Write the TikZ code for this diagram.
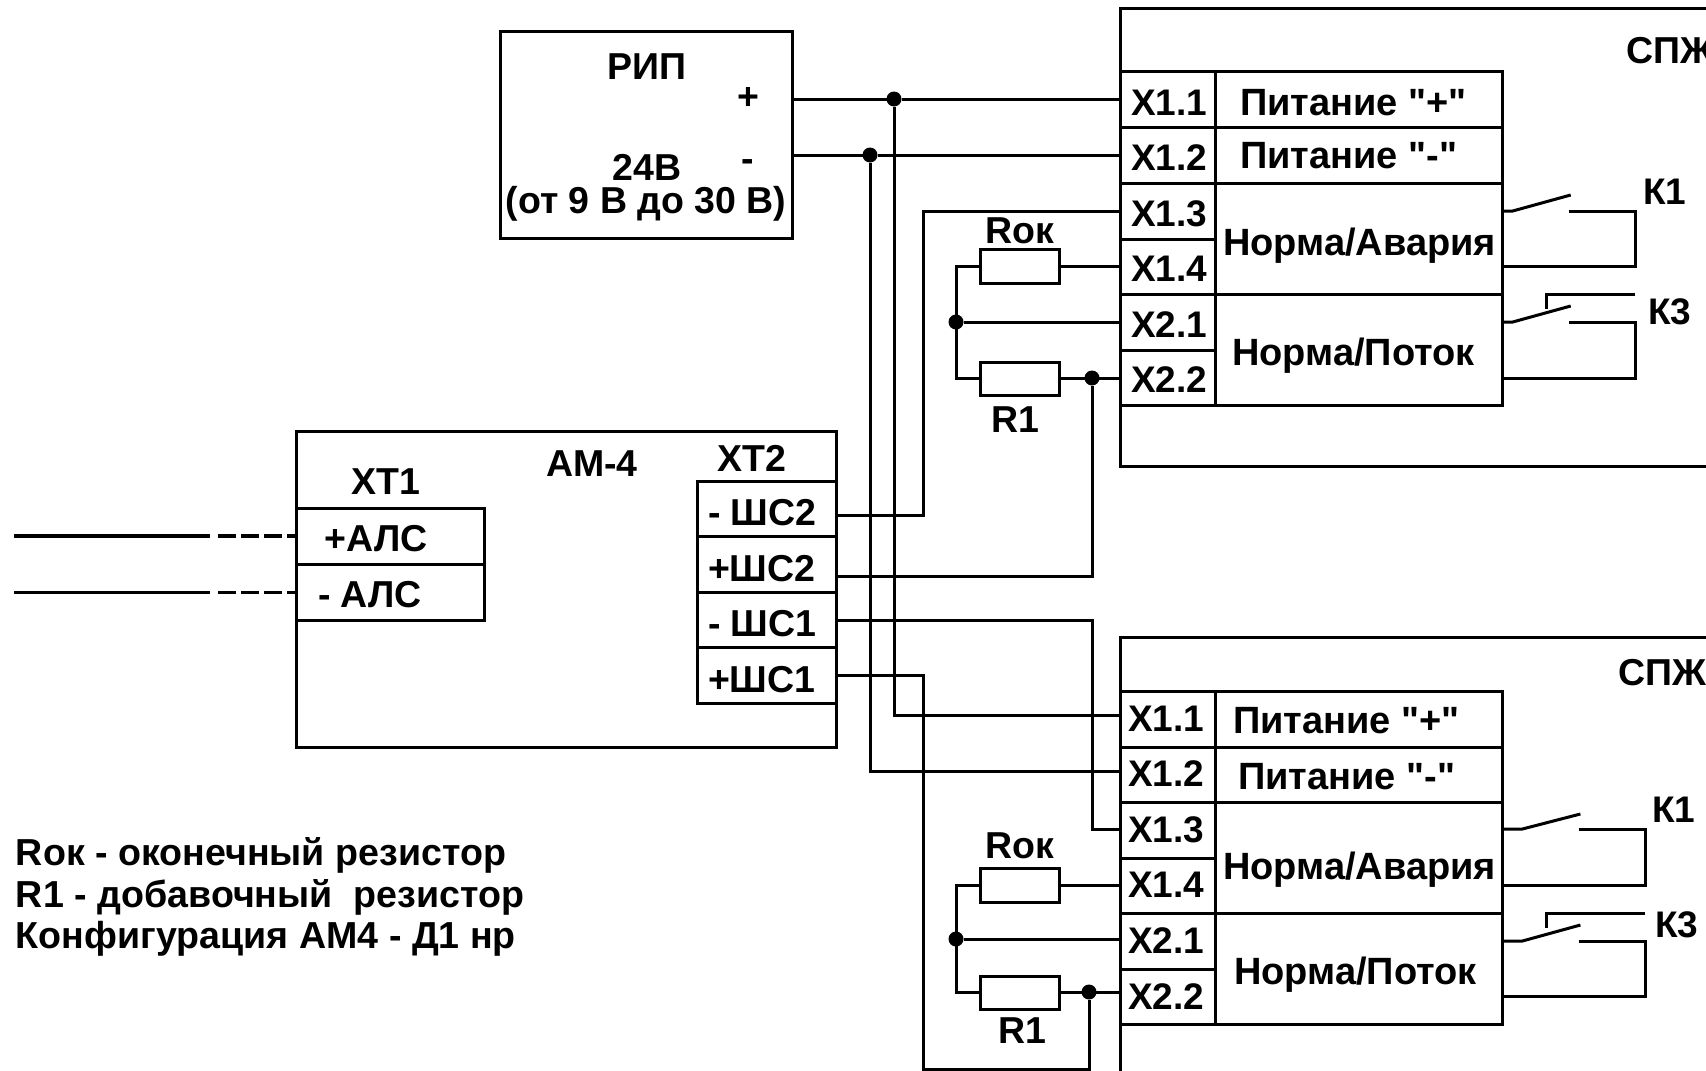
\documentclass[tikz,border=0pt]{standalone}
\usepackage{fontspec}
\setmainfont{Liberation Sans}
\newfontfamily\plainf{Liberation Sans}
\newcommand{\boxat}[6][boxn]{\pgfmathsetmacro\bw{#5-#3}\pgfmathsetmacro\bh{#6-#4}\node[#1,minimum width=\bw pt,minimum height=\bh pt] (#2) at ({(#3+#5)/2},{(#4+#6)/2}) {};}
\tikzset{
  boxn/.style={draw,line width=3pt,inner sep=0pt,outer sep=0pt,rectangle},
  wire/.style={line width=3pt,line join=miter},
  dot/.style={circle,fill=black,inner sep=0pt,outer sep=0pt,minimum size=15pt},
  lab/.style={inner sep=0pt,outer sep=0pt,anchor=base,font=\fontsize{37.5}{37.5}\selectfont\bfseries},
  labw/.style={lab,anchor=base west},
  nar/.style={inner sep=0pt,outer sep=0pt,anchor=base west,font=\fontsize{37}{37}\selectfont\bfseries},
  capt/.style={inner sep=0pt,outer sep=0pt,anchor=base west,font=\plainf\fontsize{38}{38}\selectfont\bfseries},
  leg/.style={inner sep=0pt,outer sep=0pt,anchor=base west,font=\fontsize{37.6}{37.6}\selectfont\bfseries},
}
\begin{document}
\begin{tikzpicture}[x=1pt,y=-1pt]
\useasboundingbox (0,0) rectangle (1706,1071);
\clip (0,0) rectangle (1706,1071);
% outer boxes
\boxat{spzA}{1120}{8.5}{1760}{466}
\boxat{spzB}{1120}{637}{1760}{1110}
\boxat{rip}{500}{31}{792.5}{238}
\boxat{am}{296}{431}{836}{747}
% XT1, XT2
\boxat{alsP}{296}{508}{484.5}{564}
\boxat{alsM}{296}{564}{484.5}{620}
\boxat{shA}{697}{481}{836}{536}
\boxat{shB}{697}{536}{836}{592}
\boxat{shC}{697}{592}{836}{647}
\boxat{shD}{697}{647}{836}{703}
% top terminal block
\boxat{aXa}{1120}{71.5}{1215}{127}
\boxat{aXb}{1120}{127}{1215}{183}
\boxat{aXc}{1120}{183}{1215}{239}
\boxat{aXd}{1120}{239}{1215}{294.5}
\boxat{aXe}{1120}{294.5}{1215}{350}
\boxat{aXf}{1120}{350}{1215}{405.5}
\boxat{aLa}{1215}{71.5}{1502}{127}
\boxat{aLb}{1215}{127}{1502}{183}
\boxat{aLc}{1215}{183}{1502}{294.5}
\boxat{aLd}{1215}{294.5}{1502}{405.5}
% bottom terminal block
\boxat{bXa}{1120}{691}{1215}{747}
\boxat{bXb}{1120}{747}{1215}{802}
\boxat{bXc}{1120}{802}{1215}{858}
\boxat{bXd}{1120}{858}{1215}{913}
\boxat{bXe}{1120}{913}{1215}{969}
\boxat{bXf}{1120}{969}{1215}{1024}
\boxat{bLa}{1215}{691}{1502}{747}
\boxat{bLb}{1215}{747}{1502}{802}
\boxat{bLc}{1215}{802}{1502}{913}
\boxat{bLd}{1215}{913}{1502}{1024}
% resistors
\boxat{rokA}{980}{249}{1059}{283}
\boxat{roA}{980}{362}{1059}{395}
\boxat{rokB}{980}{868}{1059}{902}
\boxat{roB}{980}{976}{1059}{1009}
% junctions
\node[dot] (jP) at (894,99) {};
\node[dot] (jM) at (870,155) {};
\node[dot] (jA) at (956,322) {};
\node[dot] (jB) at (1092,378) {};
\node[dot] (jC) at (956,939) {};
\node[dot] (jD) at (1089,992) {};
% routing coordinates
\coordinate (xPb) at (894,715);
\coordinate (xMb) at (870,771);
\coordinate (x13t) at (923,211);
\coordinate (x13m) at (923,515);
\coordinate (x22t) at (1092,576);
\coordinate (scA) at (1092,620);
\coordinate (scB) at (1092,829);
\coordinate (sdA) at (923,675);
\coordinate (sdB) at (923,1069);
\coordinate (sdC) at (1089,1069);
\coordinate (lA) at (956,266);
\coordinate (lB) at (956,378);
\coordinate (lC) at (956,885);
\coordinate (lD) at (956,992);
% power
\draw[wire] (rip.east |- jP) -- (jP) -- (aXa.west |- jP);
\draw[wire] (rip.east |- jM) -- (jM) -- (aXb.west |- jM);
\draw[wire] (jP) -- (xPb) -- (bXa.west |- xPb);
\draw[wire] (jM) -- (xMb) -- (bXb.west |- xMb);
% loop top
\draw[wire] (shA.east |- x13m) -- (x13m) -- (x13t) -- (aXc.west |- x13t);
\draw[wire] (shB.east |- x22t) -- (x22t) -- (jB);
\draw[wire] (rokA.east) -- (aXd.west |- rokA.east);
\draw[wire] (jA) -- (aXe.west |- jA);
\draw[wire] (roA.east |- jB) -- (aXf.west |- jB);
\draw[wire] (rokA.west) -- (lA) -- (lB) -- (roA.west |- lB);
% loop bottom
\draw[wire] (shC.east |- scA) -- (scA) -- (scB) -- (bXc.west |- scB);
\draw[wire] (shD.east |- sdA) -- (sdA) -- (sdB) -- (sdC) -- (jD);
\draw[wire] (rokB.east) -- (bXd.west |- lC);
\draw[wire] (jC) -- (bXe.west |- jC);
\draw[wire] (roB.east |- jD) -- (bXf.west |- jD);
\draw[wire] (rokB.west) -- (lC) -- (lD) -- (roB.west |- lD);
% ALS lines
\coordinate (alsPa) at (14,536);
\coordinate (alsPb) at (210,536);
\coordinate (alsPc) at (218,536);
\coordinate (alsMa) at (14,592);
\coordinate (alsMb) at (210,592);
\coordinate (alsMc) at (218,592);
\draw[line width=3.4pt] (alsPa) -- (alsPb);
\draw[line width=3pt] (alsMa) -- (alsMb);
\draw[line width=3.4pt,dash pattern=on 18pt off 5pt] (alsPc) -- (alsP.west |- alsPc);
\draw[line width=3pt,dash pattern=on 18pt off 5pt] (alsMc) -- (alsM.west |- alsMc);
% contacts top
\coordinate (kAa) at (1512.7,211);
\coordinate (kAb) at (1570.7,195);
\coordinate (kAc) at (1568.8,211);
\coordinate (kAd) at (1635.3,211);
\coordinate (kAe) at (1635.3,266);
\draw[wire] (aLc.east |- kAa) -- (kAa) -- (kAb);
\draw[wire] (kAc) -- (kAd) -- (kAe) -- (aLc.east |- kAe);
\coordinate (kBa) at (1512.7,322);
\coordinate (kBb) at (1570.7,306);
\coordinate (kBc) at (1568.8,322);
\coordinate (kBd) at (1635.3,322);
\coordinate (kBe) at (1635.3,378);
\coordinate (kBf) at (1635.3,294);
\coordinate (kBg) at (1546.4,294);
\coordinate (kBh) at (1546.4,309);
\draw[wire] (aLd.east |- kBa) -- (kBa) -- (kBb);
\draw[wire] (kBc) -- (kBd) -- (kBe) -- (aLd.east |- kBe);
\draw[wire] (kBf) -- (kBg) -- (kBh);
% contacts bottom
\coordinate (kCa) at (1522.4,829);
\coordinate (kCb) at (1580.4,814);
\coordinate (kCc) at (1578.5,829);
\coordinate (kCd) at (1645,829);
\coordinate (kCe) at (1645,885);
\draw[wire] (bLc.east |- kCa) -- (kCa) -- (kCb);
\draw[wire] (kCc) -- (kCd) -- (kCe) -- (bLc.east |- kCe);
\coordinate (kDa) at (1522.4,941);
\coordinate (kDb) at (1580.4,925);
\coordinate (kDc) at (1578.5,941);
\coordinate (kDd) at (1645,941);
\coordinate (kDe) at (1645,996);
\coordinate (kDf) at (1645,913);
\coordinate (kDg) at (1546.4,913);
\coordinate (kDh) at (1546.4,928);
\draw[wire] (bLd.east |- kDa) -- (kDa) -- (kDb);
\draw[wire] (kDc) -- (kDd) -- (kDe) -- (bLd.east |- kDe);
\draw[wire] (kDf) -- (kDg) -- (kDh);
% texts: RIP
\node[lab] (tRip) at (647,79) {РИП};
\node[lab] (tPlus) at (748,109) {+};
\node[lab] (tMinus) at (748,171) {-};
\node[lab] (t24) at (647,180) {24В};
\node[lab] (tRange) at (646,213) {(от 9 В до 30 В)};
% AM-4
\node[lab] (tXa) at (386,494) {ХТ1};
\node[lab] (tAm) at (592,476) {АМ-4};
\node[lab] (tXb) at (752,471) {ХТ2};
\node[lab] (tAp) at (376,551) {+АЛС};
\node[lab] (tAm2) at (370,607) {- АЛС};
\node[labw] (tSa) at (708,525) {- ШС2};
\node[labw] (tSb) at (708,581) {+ШС2};
\node[labw] (tSc) at (708,636) {- ШС1};
\node[labw] (tSd) at (708,692) {+ШС1};
% resistor labels
\node[lab] (tRa) at (1020,243) {Rок};
\node[lab] (tRb) at (1015,432) {R1};
\node[lab] (tRc) at (1020,858) {Rок};
\node[lab] (tRd) at (1022,1043) {R1};
% top block texts
\node[labw] (tSpzA) at (1626.4,63) {СПЖ};
\node[nar] (tAa) at (1131,115) {Х1.1};
\node[nar] (tAb) at (1131,170) {Х1.2};
\node[nar] (tAc) at (1131,226) {Х1.3};
\node[nar] (tAd) at (1131,281) {Х1.4};
\node[nar] (tAe) at (1131,337) {Х2.1};
\node[nar] (tAf) at (1131,392) {Х2.2};
\node[capt] (tLa) at (1240,115) {Питание "+"};
\node[capt] (tLb) at (1240,168) {Питание "-"};
\node[capt] (tLc) at (1223,255) {Норма/Авария};
\node[capt] (tLd) at (1232,365) {Норма/Поток};
\node[nar] (tKa) at (1643,204) {К1};
\node[nar] (tKb) at (1648,324) {К3};
% bottom block texts
\node[labw] (tSpzB) at (1618.6,685) {СПЖ};
\node[nar] (tBa) at (1128,731) {Х1.1};
\node[nar] (tBb) at (1128,786) {Х1.2};
\node[nar] (tBc) at (1128,842) {Х1.3};
\node[nar] (tBd) at (1128,897) {Х1.4};
\node[nar] (tBe) at (1128,953) {Х2.1};
\node[nar] (tBf) at (1128,1009) {Х2.2};
\node[capt] (tMa) at (1233,733) {Питание "+"};
\node[capt] (tMb) at (1238,789) {Питание "-"};
\node[capt] (tMc) at (1223,879) {Норма/Авария};
\node[capt] (tMd) at (1234,984) {Норма/Поток};
\node[nar] (tKc) at (1652,822) {К1};
\node[nar] (tKd) at (1655,937) {К3};
% legend
\node[leg] (gA) at (16,865) {Rок - оконечный резистор};
\node[leg] (gB) at (16,907) {R1 - добавочный \ резистор};
\node[leg] (gC) at (16,948) {Конфигурация АМ4 - Д1 нр};
\end{tikzpicture}
\end{document}
